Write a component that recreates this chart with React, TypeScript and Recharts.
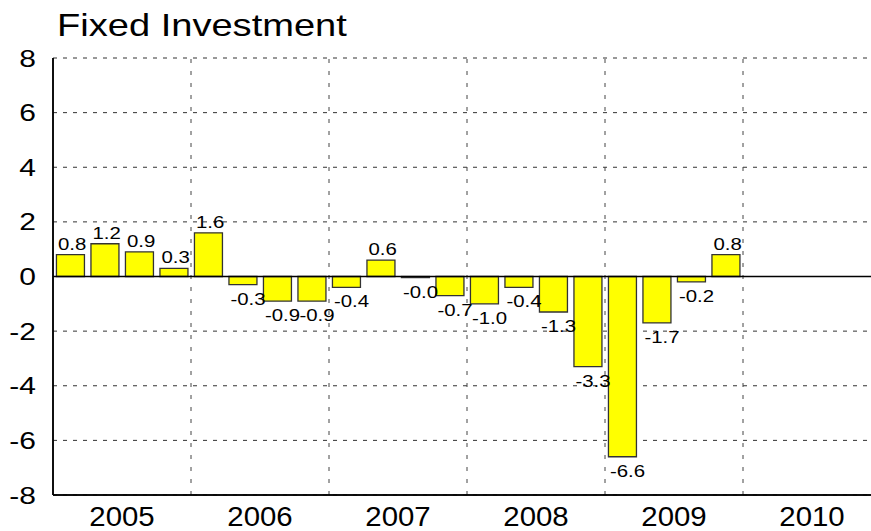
import React from 'react';
import {
  BarChart, Bar, XAxis, YAxis, CartesianGrid, ReferenceLine, LabelList,
} from 'recharts';

const years = ['2005', '2006', '2007', '2008', '2009', '2010'];
const quarters = ['Q1', 'Q2', 'Q3', 'Q4'];
// quarterly change, % (2010 not yet published)
const growth: (number | null)[] = [
  0.8, 1.2, 0.9, 0.3,
  1.6, -0.3, -0.9, -0.9,
  -0.4, 0.6, -0.04, -0.7,
  -1.0, -0.4, -1.3, -3.3,
  -6.6, -1.7, -0.2, 0.8,
  null, null, null, null,
];
const yTicks = [-8, -6, -4, -2, 0, 2, 4, 6, 8];
const yearMid = [2, 6, 10, 14, 18, 22];
const yearEdges = [4, 8, 12, 16, 20];

const data = growth.map((value, i) => ({
  q: years[Math.floor(i / 4)] + quarters[i % 4],
  pos: i + 0.5,
  value,
}));

const FONT = '"Liberation Sans", Arial, Helvetica, sans-serif';
const SX = 1.2; // the original text is a bit wide

const Stretch = ({ x, y, sx = SX, size, anchor = 'start', children }: any) => (
  <g transform={`translate(${x},${y}) scale(${sx},1)`}>
    <text x={0} y={0} fontSize={size} fontFamily={FONT} fill="#000" textAnchor={anchor}>
      {children}
    </text>
  </g>
);

const YTick = ({ x, y, payload }: any) => (
  <Stretch x={x} y={y + 8.5} size={24} anchor="end" sx={1.25}>{payload.value}</Stretch>
);

const YearTick = ({ x, y, payload }: any) => (
  <Stretch x={x} y={y + 25} size={28} anchor="middle" sx={1.05}>
    {years[yearMid.indexOf(payload.value)]}
  </Stretch>
);

const BarLabel = ({ x, y, width, height, value }: any) => {
  if (value == null) return null;
  const top = Math.min(y, y + height);
  const bottom = Math.max(y, y + height);
  const ty = value >= 0 ? top - 5 : bottom + 20;
  return <Stretch x={x + 1.5} y={ty} size={17}>{value.toFixed(1)}</Stretch>;
};

export default function App() {
  return (
    <div style={{ position: 'absolute', left: 0, top: 0, width: 871, height: 531, overflow: 'hidden', background: '#fff' }}>
      <svg width={400} height={50} style={{ position: 'absolute', left: 0, top: 0 }}>
        <Stretch x={57} y={36} size={32} sx={1.19}>Fixed Investment</Stretch>
      </svg>
      <BarChart
        width={890}
        height={531}
        data={data}
        margin={{ top: 58, right: 9, left: 0, bottom: 0 }}
        barCategoryGap="10%"
      >
        <CartesianGrid vertical={false} strokeDasharray="4 6" stroke="#333" />
        <XAxis xAxisId="q" dataKey="q" orientation="top" height={0} hide />
        <XAxis
          xAxisId="yr"
          dataKey="pos"
          type="number"
          domain={[0, 24]}
          ticks={yearMid}
          interval={0}
          height={36}
          tickLine={false}
          tickMargin={0}
          axisLine={{ stroke: '#000', strokeWidth: 1.5 }}
          tick={<YearTick />}
        />
        <YAxis
          domain={[-8, 8]}
          ticks={yTicks}
          interval={0}
          width={53}
          tickLine={false}
          tickMargin={11}
          axisLine={{ stroke: '#000', strokeWidth: 1.5 }}
          tick={<YTick />}
        />
        {yearEdges.map((e) => (
          <ReferenceLine key={e} xAxisId="yr" x={e} stroke="#444" strokeDasharray="4 8" />
        ))}
        <ReferenceLine xAxisId="yr" x={0} stroke="#000" strokeWidth={1.5} />
        <ReferenceLine xAxisId="yr" y={-8} stroke="#000" strokeWidth={1.5} />
        <Bar xAxisId="q" dataKey="value" fill="#ffff00" stroke="#333" strokeWidth={1.3} isAnimationActive={false}>
          <LabelList dataKey="value" content={<BarLabel />} />
        </Bar>
        <ReferenceLine xAxisId="yr" y={0} stroke="#000" strokeWidth={1.3} />
      </BarChart>
    </div>
  );
}
